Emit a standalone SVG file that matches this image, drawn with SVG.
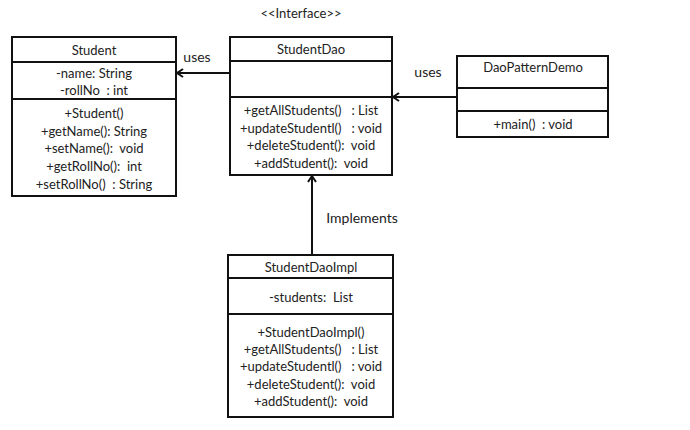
<svg xmlns="http://www.w3.org/2000/svg" width="690" height="430" viewBox="0 0 690 430">
<defs>
<style>
.box{fill:#fff;stroke:#111;stroke-width:2}
.ln{stroke:#111;stroke-width:2;fill:none}
text{font-family:Lato,"Open Sans","Liberation Sans",sans-serif;font-size:13px;fill:#222;text-anchor:middle;white-space:pre}
.lbl{font-size:14px}
</style>
<marker id="ah" markerWidth="10" markerHeight="10" refX="8" refY="5" orient="auto" markerUnits="userSpaceOnUse">
<path d="M2,1 L8,5 L2,9" fill="none" stroke="#111" stroke-width="2"/>
</marker>
</defs>
<rect width="690" height="430" fill="#fff"/>
<text x="301" y="18" font-size="11.5">&lt;&lt;Interface&gt;&gt;</text>
<g id="Student">
<rect class="box" x="12" y="37" width="164" height="159"/>
<line class="ln" x1="12" y1="62" x2="176" y2="62"/>
<line class="ln" x1="12" y1="99" x2="176" y2="99"/>
<text x="94" y="55">Student</text>
<text x="94" y="78">-name: String</text>
<text x="94" y="95">-rollNo  : int</text>
<text x="94" y="118">+Student()</text>
<text x="94" y="136">+getName(): String</text>
<text x="94" y="153">+setName():  void</text>
<text x="94" y="171">+getRollNo():  int</text>
<text x="94" y="189">+setRollNo()  : String</text>
</g>
<g id="StudentDao">
<rect class="box" x="230" y="37" width="162" height="138"/>
<line class="ln" x1="230" y1="61" x2="392" y2="61"/>
<line class="ln" x1="230" y1="97" x2="392" y2="97"/>
<text x="311" y="54">StudentDao</text>
<text x="311" y="115">+getAllStudents()   : List</text>
<text x="311" y="133">+updateStudentl()   : void</text>
<text x="311" y="150">+deleteStudent():  void</text>
<text x="311" y="168">+addStudent():  void</text>
</g>
<g id="DaoPatternDemo">
<rect class="box" x="457" y="56" width="151" height="81"/>
<line class="ln" x1="457" y1="88" x2="608" y2="88"/>
<line class="ln" x1="457" y1="111" x2="608" y2="111"/>
<text x="533" y="72">DaoPatternDemo</text>
<text x="533" y="129">+main()  : void</text>
</g>
<g id="StudentDaoImpl">
<rect class="box" x="228" y="255" width="165" height="162"/>
<line class="ln" x1="228" y1="278" x2="393" y2="278"/>
<line class="ln" x1="228" y1="314" x2="393" y2="314"/>
<text x="311" y="272">StudentDaoImpl</text>
<text x="311" y="302">-students:  List</text>
<text x="311" y="337">+StudentDaoImpl()</text>
<text x="311" y="354">+getAllStudents()   : List</text>
<text x="311" y="371">+updateStudentl()   : void</text>
<text x="311" y="389">+deleteStudent():  void</text>
<text x="311" y="406">+addStudent():  void</text>
</g>
<g id="connectors">
<line class="ln" x1="230" y1="73" x2="177" y2="73" marker-end="url(#ah)"/>
<line class="ln" x1="457" y1="97" x2="393" y2="97" marker-end="url(#ah)"/>
<line class="ln" x1="312" y1="255" x2="312" y2="176" marker-end="url(#ah)"/>
<text class="lbl" x="197" y="62">uses</text>
<text class="lbl" x="428" y="77">uses</text>
<text class="lbl" x="362" y="223">Implements</text>
</g>
</svg>
